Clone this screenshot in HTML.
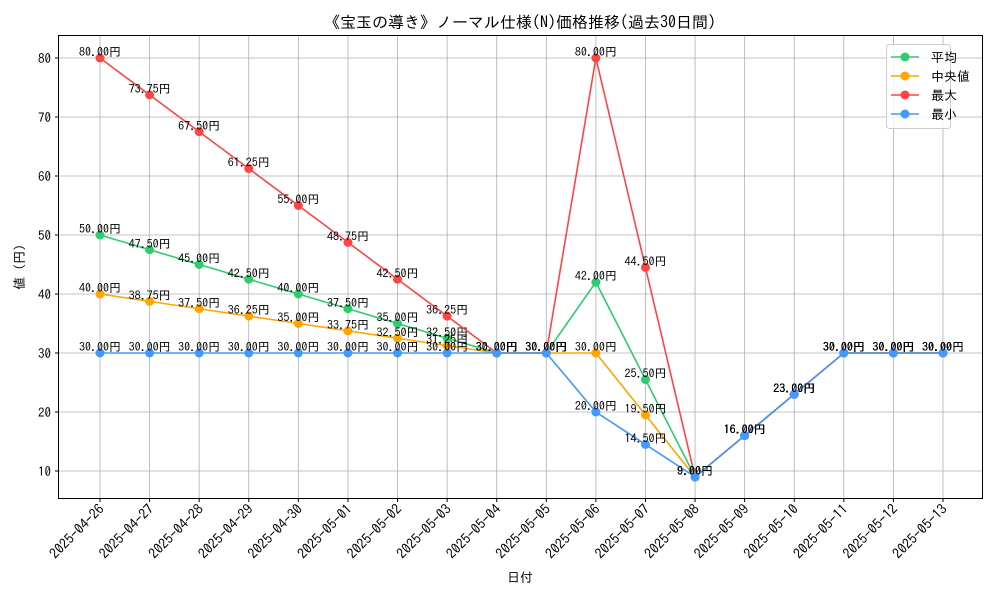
<!DOCTYPE html>
<html><head><meta charset="utf-8"><style>
body{margin:0;background:#fff}
svg text{font-family:"IPAGothic","Liberation Sans","Noto Sans CJK JP",sans-serif;fill:#000}
</style></head><body>
<svg id="chart" width="1000" height="600" xmlns="http://www.w3.org/2000/svg">
<rect width="1000" height="600" fill="#fff"/>
<text x="520" y="28" font-size="16" text-anchor="middle">《宝玉の導き》ノーマル仕様(N)価格推移(過去30日間)</text>
<g id="grid"></g>
<g id="axes"></g>
<g id="series"></g>
<rect x="58.5" y="35.5" width="924" height="463" fill="none" stroke="#000" stroke-width="1"/>
<text x="520" y="582" font-size="13" text-anchor="middle">日付</text>
<text transform="translate(24,267) rotate(-90)" font-size="13" text-anchor="middle">値 (円)</text>
<g id="legend"></g>
</svg>
<script>
const categories=["2025-04-26","2025-04-27","2025-04-28","2025-04-29","2025-04-30","2025-05-01","2025-05-02","2025-05-03","2025-05-04","2025-05-05","2025-05-06","2025-05-07","2025-05-08","2025-05-09","2025-05-10","2025-05-11","2025-05-12","2025-05-13"];
const avgValues=[50,47.5,45,42.5,40,37.5,35,32.5,30,30,42,25.5,9,16,23,30,30,30];
const medianValues=[40,38.75,37.5,36.25,35,33.75,32.5,31.25,30,30,30,19.5,9,16,23,30,30,30];
const maxValues=[80,73.75,67.5,61.25,55,48.75,42.5,36.25,30,30,80,44.5,9,16,23,30,30,30];
const minValues=[30,30,30,30,30,30,30,30,30,30,20,14.5,9,16,23,30,30,30];
const yTicks=[10,20,30,40,50,60,70,80];
const seriesNames=["平均","中央値","最大","最小"];
const seriesColors=["#2ecc71","#ffa500","#ff4444","#4499ff"];
const seriesData=[avgValues,medianValues,maxValues,minValues];
const NS="http://www.w3.org/2000/svg";
const xScale=i=>100+i*(843/17);
const yScale=v=>530-v*5.9;
function mk(tag,attrs,parent){const e=document.createElementNS(NS,tag);for(const k in attrs)e.setAttribute(k,attrs[k]);parent.appendChild(e);return e;}
const grid=document.getElementById('grid'),axes=document.getElementById('axes'),ser=document.getElementById('series'),leg=document.getElementById('legend');
categories.forEach((c,i)=>{
  const x=xScale(i);
  const gl=mk('line',{x1:x,x2:x,y1:35.5,y2:498.5,stroke:'#b0b0b0','stroke-width':0.8},grid);
  
  
  mk('line',{x1:x,x2:x,y1:498.5,y2:502,stroke:'#000'},axes);
  const t=mk('text',{x:0,y:0,'font-size':14,'text-anchor':'end',transform:`translate(${x+5},${510}) rotate(-45)`},axes);
  t.textContent=c;
  
  
});
yTicks.forEach(v=>{
  const y=yScale(v);
  const gl=mk('line',{x1:58.5,x2:982.5,y1:y,y2:y,stroke:'#b0b0b0','stroke-width':0.8},grid);
  
  
  mk('line',{x1:55,x2:58.5,y1:y,y2:y,stroke:'#000'},axes);
  const t=mk('text',{x:51,y:y+5,'font-size':13,'text-anchor':'end'},axes);
  t.textContent=v;
  
  
});
seriesData.forEach((vals,s)=>{
  const g=mk('g',{},ser);
  
  
  const pts=vals.map((v,i)=>xScale(i)+','+yScale(v)).join(' ');
  const pl=mk('polyline',{points:pts,fill:'none',stroke:seriesColors[s],'stroke-width':1.6},g);
  
  
  vals.forEach((v,i)=>{
    const c=mk('circle',{cx:xScale(i),cy:yScale(v),r:4.5,fill:seriesColors[s]},g);
    
    
  });
  vals.forEach((v,i)=>{
    const t=mk('text',{x:xScale(i),y:yScale(v)-2,'font-size':12,'text-anchor':'middle'},g);
    t.textContent=v.toFixed(2)+'円';
    
    
  });
});
mk('rect',{x:886.5,y:44.5,width:64,height:84,rx:3,fill:'#fff','fill-opacity':0.8,stroke:'#ccc'},leg);
seriesNames.forEach((n,s)=>{
  const y=57+s*19;
  const e=mk('g',{},leg);
  
  
  mk('line',{x1:891,x2:919,y1:y,y2:y,stroke:seriesColors[s],'stroke-width':1.6},e);
  mk('circle',{cx:905,cy:y,r:4.5,fill:seriesColors[s]},e);
  const t=mk('text',{x:931,y:y+5,'font-size':13},e);
  t.textContent=n;
});
</script>
</body></html>
